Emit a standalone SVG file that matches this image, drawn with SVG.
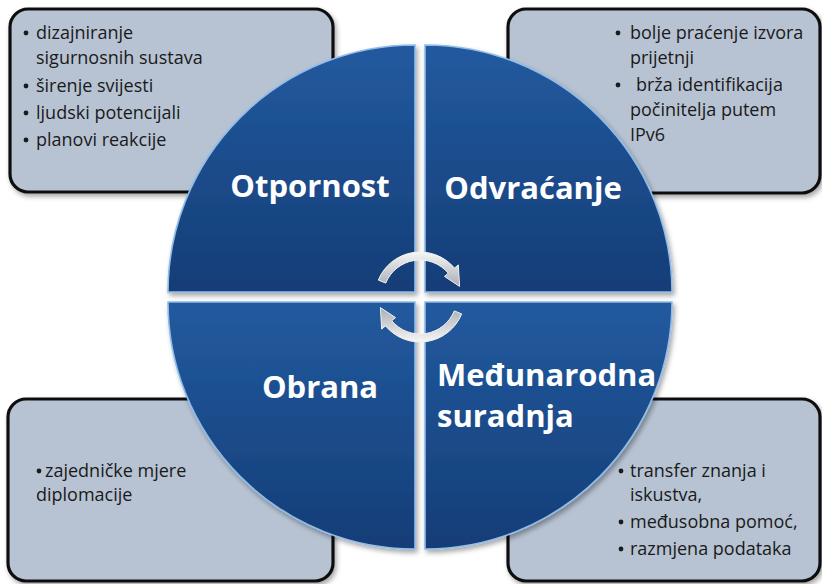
<svg xmlns="http://www.w3.org/2000/svg" width="822" height="584" viewBox="0 0 822 584">
<style>
.box{fill:#b7c3d3;stroke:#111;stroke-width:3.2}
.q{fill:url(#qg);stroke:#8fbce8;stroke-width:1.6}
.t{font-family:"Open Sans","Liberation Sans",sans-serif;font-size:18px;fill:#1a1a1a}
.d{fill:#1a1a1a}
.lbl{font-family:"Open Sans","Liberation Sans",sans-serif;font-size:31px;font-weight:bold;fill:#ffffff}
.arr{fill:url(#ag);stroke:#f2f2f2;stroke-width:1}
</style>
<defs>
<linearGradient id="qg" x1="0" y1="0" x2="0" y2="1">
<stop offset="0" stop-color="#235a9f"/>
<stop offset="1" stop-color="#143d77"/>
</linearGradient>
<linearGradient id="ag" x1="0" y1="0" x2="0" y2="1">
<stop offset="0" stop-color="#f6f6f6"/>
<stop offset="1" stop-color="#a9adb3"/>
</linearGradient>
<filter id="sh" x="-10%" y="-10%" width="125%" height="125%">
<feDropShadow dx="2" dy="3" stdDeviation="2.5" flood-color="#000" flood-opacity="0.35"/>
</filter>
</defs>
<rect width="822" height="584" fill="#ffffff"/>

<g id="box-tl">
<rect class="box" x="10" y="9" width="323" height="183" rx="18" filter="url(#sh)"/>
<circle class="d" cx="26" cy="33" r="2.4"/><text class="t" x="36" y="39">dizajniranje</text>
<text class="t" x="36" y="64">sigurnosnih sustava</text>
<circle class="d" cx="26" cy="86" r="2.4"/><text class="t" x="36" y="92">širenje svijesti</text>
<circle class="d" cx="26" cy="113" r="2.4"/><text class="t" x="36" y="119">ljudski potencijali</text>
<circle class="d" cx="26" cy="140" r="2.4"/><text class="t" x="36" y="146">planovi reakcije</text>
</g>

<g id="box-tr">
<rect class="box" x="508" y="9" width="312" height="184" rx="18" filter="url(#sh)"/>
<circle class="d" cx="618" cy="33" r="2.4"/><text class="t" x="630" y="39">bolje praćenje izvora</text>
<text class="t" x="630" y="64">prijetnji</text>
<circle class="d" cx="618" cy="85" r="2.4"/><text class="t" x="636" y="91">brža identifikacija</text>
<text class="t" x="630" y="116">počinitelja putem</text>
<text class="t" x="630" y="141">IPv6</text>
</g>

<g id="box-bl">
<rect class="box" x="8" y="399" width="325" height="182" rx="18" filter="url(#sh)"/>
<circle class="d" cx="39" cy="471" r="2.4"/><text class="t" x="45" y="477">zajedničke mjere</text>
<text class="t" x="36" y="501">diplomacije</text>
</g>

<g id="box-br">
<rect class="box" x="508" y="399" width="312" height="182" rx="18" filter="url(#sh)"/>
<circle class="d" cx="621" cy="471" r="2.4"/><text class="t" x="630" y="477">transfer znanja i</text>
<text class="t" x="630" y="501">iskustva,</text>
<circle class="d" cx="621" cy="522" r="2.4"/><text class="t" x="630" y="528">međusobna pomoć,</text>
<circle class="d" cx="621" cy="549" r="2.4"/><text class="t" x="630" y="555">razmjena podataka</text>
</g>

<g id="q-otpornost">
<path class="q" filter="url(#sh)" d="M415,292 L168,292 A247,247 0 0 1 415,45 Z"/>
<text class="lbl" x="310" y="197" text-anchor="middle">Otpornost</text>
</g>
<g id="q-odvracanje">
<path class="q" filter="url(#sh)" d="M425,292 L425,45 A247,247 0 0 1 672,292 Z"/>
<text class="lbl" x="533" y="199" text-anchor="middle">Odvraćanje</text>
</g>
<g id="q-obrana">
<path class="q" filter="url(#sh)" d="M415,302 L415,549 A247,247 0 0 1 168,302 Z"/>
<text class="lbl" x="320" y="398" text-anchor="middle">Obrana</text>
</g>
<g id="q-suradnja">
<path class="q" filter="url(#sh)" d="M425,302 L672,302 A247,247 0 0 1 425,549 Z"/>
<text class="lbl" x="437" y="386">Međunarodna</text>
<text class="lbl" x="437" y="427">suradnja</text>
</g>

<g id="connectors">
<path class="arr" transform="translate(420,297)" d="M-41.7,-16.9 A45,45 0 0 1 34.5,-28.9 L38.3,-32.1 L39.6,-10.6 L24.5,-20.6 L28.3,-23.8 A37,37 0 0 0 -34.3,-13.9 Z"/>
<path class="arr" transform="translate(420,297) rotate(180)" d="M-41.7,-16.9 A45,45 0 0 1 34.5,-28.9 L38.3,-32.1 L39.6,-10.6 L24.5,-20.6 L28.3,-23.8 A37,37 0 0 0 -34.3,-13.9 Z"/>
</g>
</svg>
